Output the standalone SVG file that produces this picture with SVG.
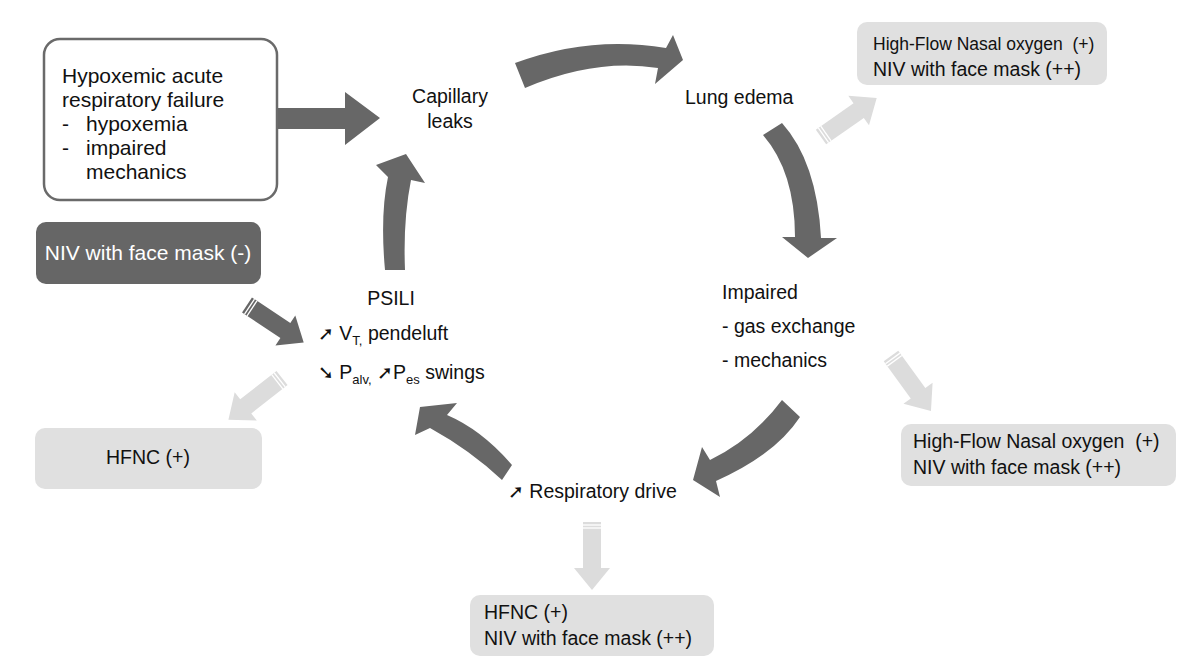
<svg xmlns="http://www.w3.org/2000/svg" width="1200" height="668" viewBox="0 0 1200 668">
<defs>
<style>
text{font-family:"Liberation Sans",Arial,sans-serif;font-size:19.5px;fill:#111}
.big{font-size:21px}
.dark{fill:#676767}
.light{fill:#dcdcdc}
.stripe{stroke:#fff;stroke-width:1.3}
.sym{font-family:"DejaVu Sans",sans-serif;font-size:19px}
.sub{font-size:13px}
</style>
<path id="sa" d="M0,-9 L46,-9 L46,-18 L68,0 L46,18 L46,9 L0,9 Z"/>
</defs>
<rect width="1200" height="668" fill="#fff"/>

<g id="connectors">
  <path class="dark" d="M277,108 L345,108 L345,92 L380,118 L345,145 L345,129 L277,129 Z"/>
  <path class="dark" d="M515,63 Q590,35 666,48 L673,35 L683,60 L655,84 L658,68 Q595,58 525,88 Z"/>
  <path class="dark" d="M763,135 Q795,172 795,237 L782,237 L808,258 L837,238 L821,238 Q817,162 782,123 Z"/>
  <path class="dark" d="M782,400 Q752,440 710,460 L702,447 L693,480 L720,497 L716,481 Q775,455 800,417 Z"/>
  <path class="dark" d="M512,465 Q482,430 447,415 L457,403 L420,407 L415,435 L430,428 Q470,450 502,480 Z"/>
  <path class="dark" d="M385,270 Q380,215 388,177 L376,165 L406,154 L425,183 L411,180 Q403,220 405,270 Z"/>
  <g transform="translate(247,305) rotate(33.5)">
    <use href="#sa" class="dark"/>
    <line class="stripe" x1="3" y1="-9" x2="3" y2="9"/><line class="stripe" x1="6" y1="-9" x2="6" y2="9"/>
  </g>
  <g transform="translate(821,137) rotate(-35)">
    <use href="#sa" class="light"/>
    <line class="stripe" x1="3" y1="-9" x2="3" y2="9"/><line class="stripe" x1="6" y1="-9" x2="6" y2="9"/>
  </g>
  <g transform="translate(891,356) rotate(54)">
    <use href="#sa" class="light"/>
    <line class="stripe" x1="3" y1="-9" x2="3" y2="9"/><line class="stripe" x1="6" y1="-9" x2="6" y2="9"/>
  </g>
  <g transform="translate(282,378) rotate(142)">
    <use href="#sa" class="light"/>
    <line class="stripe" x1="3" y1="-9" x2="3" y2="9"/><line class="stripe" x1="6" y1="-9" x2="6" y2="9"/>
  </g>
  <g transform="translate(592,522) rotate(90)">
    <use href="#sa" class="light"/>
    <line class="stripe" x1="3" y1="-9" x2="3" y2="9"/><line class="stripe" x1="6" y1="-9" x2="6" y2="9"/>
  </g>
</g>

<g id="hypoxemic">
  <rect x="44" y="39" width="233" height="161" rx="16" fill="#fff" stroke="#6a6a6a" stroke-width="2.5"/>
  <text class="big" x="62" y="83">Hypoxemic acute</text>
  <text class="big" x="62" y="107">respiratory failure</text>
  <text class="big" x="62" y="131">-</text><text class="big" x="86" y="131">hypoxemia</text>
  <text class="big" x="62" y="155">-</text><text class="big" x="86" y="155">impaired</text>
  <text class="big" x="86" y="179">mechanics</text>
</g>
<g id="capillary">
  <text x="450" y="103" text-anchor="middle">Capillary</text>
  <text x="450" y="128" text-anchor="middle">leaks</text>
</g>
<g id="lung-edema"><text x="685" y="104">Lung edema</text></g>
<g id="impaired">
  <text x="722" y="299">Impaired</text>
  <text x="722" y="333">- gas exchange</text>
  <text x="722" y="367">- mechanics</text>
</g>
<g id="psili">
  <text x="391" y="305" text-anchor="middle">PSILI</text>
  <text x="318" y="340"><tspan class="sym">➚</tspan> V<tspan class="sub" dy="5">T,</tspan><tspan dy="-5"> pendeluft</tspan></text>
  <text x="318" y="379"><tspan class="sym">➘</tspan> P<tspan class="sub" dy="5">alv,</tspan><tspan dy="-5"> </tspan><tspan class="sym">➚</tspan>P<tspan class="sub" dy="5">es</tspan><tspan dy="-5"> swings</tspan></text>
</g>
<g id="resp-drive"><text x="508" y="498"><tspan class="sym">➚</tspan> Respiratory drive</text></g>
<g id="niv-minus">
  <rect x="36" y="222" width="225" height="62" rx="10" fill="#666"/>
  <text class="big" x="148" y="260" text-anchor="middle" style="fill:#fff">NIV with face mask (-)</text>
</g>
<g id="hfnc-left">
  <rect x="35" y="428" width="227" height="61" rx="10" fill="#e0e0e0"/>
  <text x="148" y="464" text-anchor="middle">HFNC (+)</text>
</g>
<g id="hfno-top">
  <rect x="857" y="22" width="250" height="63" rx="10" fill="#e0e0e0"/>
  <text x="873" y="50" xml:space="preserve" style="font-size:17.5px">High-Flow Nasal oxygen  (+)</text>
  <text x="873" y="76">NIV with face mask (++)</text>
</g>
<g id="hfno-right">
  <rect x="901" y="424" width="275" height="62" rx="10" fill="#e0e0e0"/>
  <text x="913" y="448" xml:space="preserve">High-Flow Nasal oxygen  (+)</text>
  <text x="913" y="474">NIV with face mask (++)</text>
</g>
<g id="hfnc-bottom">
  <rect x="470" y="595" width="244" height="61" rx="10" fill="#e0e0e0"/>
  <text x="484" y="619">HFNC (+)</text>
  <text x="484" y="645">NIV with face mask (++)</text>
</g>
</svg>
